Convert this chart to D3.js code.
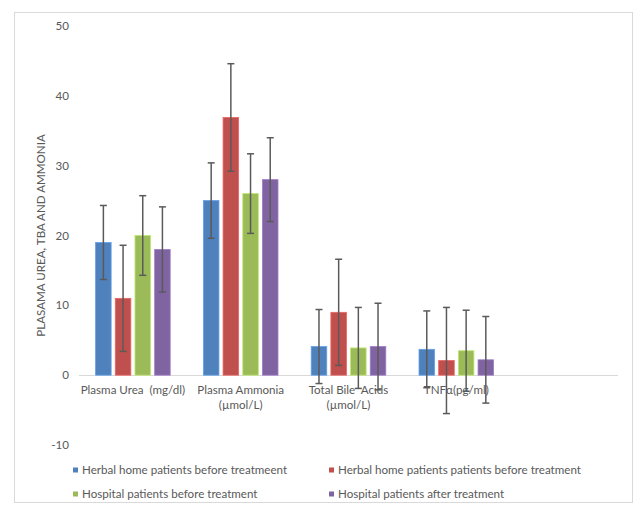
<!DOCTYPE html>
<html>
<head>
<meta charset="utf-8">
<script src="https://cdn.jsdelivr.net/npm/d3@7"></script>
<style>
  html, body { margin: 0; padding: 0; background: #fff; }
  svg { display: block; }
  text { font-family: Lato, "Open Sans", sans-serif; white-space: pre; }
</style>
</head>
<body>
<svg id="chart" width="637" height="506"></svg>
<script>
// ---- data ----
const categories = [
  ["Plasma Urea  (mg/dl)"],
  ["Plasma Ammonia", "(µmol/L)"],
  ["Total Bile  Acids", "(µmol/L)"],
  ["TNFα(pg/ml)"],
  [""]
];
const seriesNames = [
  "Herbal home patients before treatmeent",
  "Herbal home patients patients before treatment",
  "Hospital patients before treatment",
  "Hospital patients after treatment"
];
const seriesColors = ["#4F81BD", "#C0504D", "#9BBB59", "#8064A2"];
const valuesHerbalBefore1 = [19, 25, 4.1, 3.7];
const errorsHerbalBefore1 = [5.3, 5.4, 5.3, 5.5];
const valuesHerbalBefore2 = [11, 36.9, 9, 2.1];
const errorsHerbalBefore2 = [7.6, 7.7, 7.6, 7.6];
const valuesHospitalBefore = [20, 26, 3.9, 3.5];
const errorsHospitalBefore = [5.7, 5.7, 5.8, 5.8];
const valuesHospitalAfter = [18, 28, 4.1, 2.2];
const errorsHospitalAfter = [6.1, 6.0, 6.2, 6.2];
const yTicks = [-10, 0, 10, 20, 30, 40, 50];
const yTitle = "PLASAMA UREA, TBA AND AMMONIA";

const seriesValues = [valuesHerbalBefore1, valuesHerbalBefore2, valuesHospitalBefore, valuesHospitalAfter];
const seriesErrors = [errorsHerbalBefore1, errorsHerbalBefore2, errorsHospitalBefore, errorsHospitalAfter];

// ---- layout ----
const svg = d3.select("#chart");
const plotLeft = 79, plotRight = 618, plotTop = 26, plotBottom = 445;
const textColor = "#595959";
const fs = 11.6;

svg.append("rect")
  .attr("x", 14.5).attr("y", 12.5)
  .attr("width", 618).attr("height", 490)
  .attr("fill", "#fff").attr("stroke", "#d9d9d9").attr("stroke-width", 1);

const y = d3.scaleLinear().domain([-10, 50]).range([plotBottom, plotTop]);
const catIdx = categories.map((d, i) => i);
const x0 = d3.scaleBand().domain(catIdx).range([plotLeft, plotRight])
  .paddingInner(0.308).paddingOuter(0.154);
const x1 = d3.scaleBand().domain(d3.range(seriesNames.length))
  .range([0, x0.bandwidth()]).paddingInner(0.21).paddingOuter(0);

// y tick labels
svg.append("g").selectAll("text").data(yTicks).join("text")
  .attr("x", 69).attr("y", d => y(d))
  .attr("dy", "0.35em")
  .attr("text-anchor", "end")
  .attr("font-size", fs)
  .attr("fill", textColor)
  .text(d => d);

// y title
svg.append("text")
  .attr("transform", `translate(45, ${(plotTop + plotBottom) / 2}) rotate(-90)`)
  .attr("text-anchor", "middle")
  .attr("font-size", fs)
  .attr("fill", textColor)
  .text(yTitle);

// zero line
svg.append("line")
  .attr("x1", plotLeft).attr("x2", plotRight)
  .attr("y1", Math.round(y(0)) + 0.5).attr("y2", Math.round(y(0)) + 0.5)
  .attr("stroke", "#d9d9d9").attr("stroke-width", 1);

// category labels
const catG = svg.append("g");
categories.forEach((lines, i) => {
  const cx = x0(i) + x0.bandwidth() / 2;
  lines.forEach((ln, j) => {
    catG.append("text")
      .attr("x", cx).attr("y", y(0) + 15 + j * 15)
      .attr("dy", "0.35em")
      .attr("text-anchor", "middle")
      .attr("font-size", fs)
      .attr("fill", textColor)
      .text(ln);
  });
});

// bars
const barData = [];
seriesValues.forEach((vals, s) => {
  vals.forEach((v, c) => barData.push({ s, c, v, e: seriesErrors[s][c] }));
});

svg.append("g").selectAll("rect").data(barData).join("rect")
  .attr("x", d => x0(d.c) + x1(d.s))
  .attr("width", x1.bandwidth())
  .attr("y", d => y(Math.max(0, d.v)))
  .attr("height", d => Math.abs(y(d.v) - y(0)))
  .attr("fill", d => seriesColors[d.s])
  .attr("stroke", d => d3.color(seriesColors[d.s]).brighter(0.6))
  .attr("stroke-width", 0.8);

// error bars
const eg = svg.append("g").attr("stroke", "#5a5a5a").attr("stroke-width", 1.5);
barData.forEach(d => {
  const cx = x0(d.c) + x1(d.s) + x1.bandwidth() / 2;
  const yt = y(d.v + d.e), yb = y(d.v - d.e);
  eg.append("line").attr("x1", cx).attr("x2", cx).attr("y1", yt).attr("y2", yb);
  eg.append("line").attr("x1", cx - 3.5).attr("x2", cx + 3.5).attr("y1", yt).attr("y2", yt);
  eg.append("line").attr("x1", cx - 3.5).attr("x2", cx + 3.5).attr("y1", yb).attr("y2", yb);
});

// legend
const legendPos = [[73, 470], [329, 470], [73, 494], [329, 494]];
const lg = svg.append("g");
seriesNames.forEach((name, i) => {
  const [lx, ly] = legendPos[i];
  lg.append("rect").attr("x", lx).attr("y", ly - 2.5).attr("width", 5).attr("height", 5)
    .attr("fill", seriesColors[i]);
  lg.append("text").attr("x", lx + 9).attr("y", ly).attr("dy", "0.35em")
    .attr("font-size", fs).attr("fill", textColor).text(name);
});
</script>
</body>
</html>
